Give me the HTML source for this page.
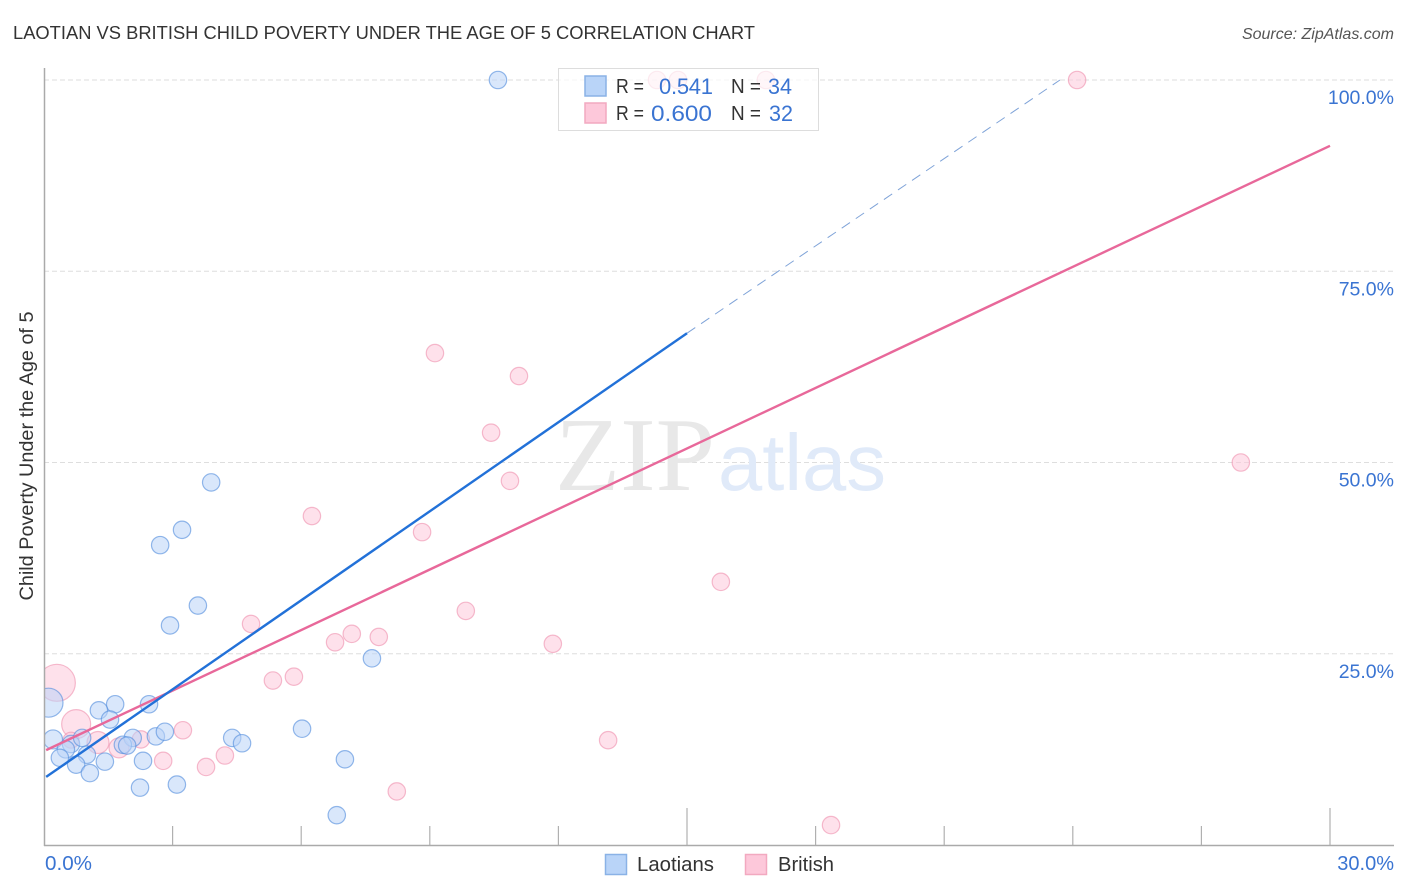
<!DOCTYPE html>
<html lang="en">
<head>
<meta charset="utf-8">
<title>Laotian vs British Child Poverty Chart</title>
<style>
html,body{margin:0;padding:0;background:#fff;}
svg{display:block;font-family:"Liberation Sans",sans-serif;}
</style>
</head>
<body>
<svg id="chart" width="1406" height="892" viewBox="0 0 1406 892">
  <text x="13" y="39" font-size="18.5" fill="#333" textLength="742" lengthAdjust="spacingAndGlyphs">LAOTIAN VS BRITISH CHILD POVERTY UNDER THE AGE OF 5 CORRELATION CHART</text>
  <text x="1394" y="39" font-size="16" font-style="italic" fill="#555" text-anchor="end">Source: ZipAtlas.com</text>
  <g id="grid"></g>
  <g>
    <text x="555" y="490" font-family="'Liberation Serif',serif" font-size="105" fill="#e8e8e8" textLength="160" lengthAdjust="spacingAndGlyphs">ZIP</text>
    <text x="718" y="490" font-size="80" fill="#e0eaf9" textLength="168" lengthAdjust="spacingAndGlyphs">atlas</text>
  </g>
  <g id="points"></g>
  <rect x="0" y="60" width="45" height="786" fill="#fff"/>
  <g id="trends"></g>
  <g id="axes"></g>
  <text transform="translate(33,456) rotate(-90)" font-size="19.5" fill="#333" text-anchor="middle" textLength="289" lengthAdjust="spacingAndGlyphs">Child Poverty Under the Age of 5</text>
  <g>
    <rect x="558.5" y="68.5" width="260" height="62" fill="#fff" fill-opacity="0.7" stroke="#ddd"/>
    <rect x="585" y="76" width="21" height="20" fill="#b9d4f8" stroke="#8ab2e6" stroke-width="1.5"/>
    <rect x="585" y="103" width="21" height="20" fill="#fdc8da" stroke="#f2a9c0" stroke-width="1.5"/>
    <g font-size="20" fill="#333">
      <text x="616" y="93" textLength="28" lengthAdjust="spacingAndGlyphs">R =</text>
      <text x="731" y="93" textLength="30" lengthAdjust="spacingAndGlyphs">N =</text>
      <text x="616" y="120" textLength="28" lengthAdjust="spacingAndGlyphs">R =</text>
      <text x="731" y="120" textLength="30" lengthAdjust="spacingAndGlyphs">N =</text>
    </g>
    <g font-size="22" fill="#3a74d2">
      <text x="659" y="94" textLength="54" lengthAdjust="spacing">0.541</text>
      <text x="768" y="94" textLength="24" lengthAdjust="spacingAndGlyphs">34</text>
      <text x="651" y="121" textLength="61" lengthAdjust="spacingAndGlyphs">0.600</text>
      <text x="769" y="121" textLength="24" lengthAdjust="spacingAndGlyphs">32</text>
    </g>
  </g>
  <g>
    <rect x="605.5" y="854.5" width="21" height="20" fill="#b9d4f8" stroke="#8ab2e6" stroke-width="1.5"/>
    <text x="637" y="871" font-size="20" fill="#333" textLength="77" lengthAdjust="spacingAndGlyphs">Laotians</text>
    <rect x="745.5" y="854.5" width="21" height="20" fill="#fdc8da" stroke="#f2a9c0" stroke-width="1.5"/>
    <text x="778" y="871" font-size="20" fill="#333" textLength="56" lengthAdjust="spacingAndGlyphs">British</text>
  </g>
</svg>
<script>
var yTickValues = [25, 50, 75, 100];
var yTickLabels = ["25.0%", "50.0%", "75.0%", "100.0%"];
var xTickValues = [3, 6, 9, 12, 15, 18, 21, 24, 27, 30];
var xMajorTicks = [15, 30];
var xEndLabels = ["0.0%", "30.0%"];

var laotianX = [10.59, 3.90, 3.22, 2.71, 3.59, 2.94, 7.65, 0.105, 1.66, 1.28, 1.54, 2.45, 0.21, 0.63, 0.51, 0.89, 1.00, 0.37, 0.75, 1.42, 1.07, 2.07, 1.84, 1.94, 2.61, 2.82, 2.31, 2.24, 3.10, 4.39, 4.62, 6.02, 7.02, 6.83];
var laotianY = [100, 47.4, 41.2, 39.2, 31.3, 28.7, 24.4, 18.6, 18.4, 17.6, 16.4, 18.4, 13.8, 13.2, 12.5, 14.0, 11.8, 11.4, 10.5, 10.9, 9.4, 14.0, 13.1, 13.0, 14.2, 14.8, 11.0, 7.5, 7.9, 14.0, 13.3, 15.2, 11.2, 3.9];
var laotianSize = [8.7, 8.7, 8.7, 8.7, 8.7, 8.7, 8.7, 14.5, 8.7, 8.7, 8.7, 8.7, 9.5, 8.7, 8.7, 8.7, 8.7, 8.7, 8.7, 8.7, 8.7, 8.7, 8.7, 8.7, 8.7, 8.7, 8.7, 8.7, 8.7, 8.7, 8.7, 8.7, 8.7, 8.7];

var britishX = [14.30, 14.79, 16.84, 24.10, 27.92, 9.12, 11.08, 10.43, 10.87, 6.25, 8.82, 15.79, 9.84, 4.83, 7.18, 7.81, 6.79, 11.87, 5.83, 5.34, 13.16, 8.23, 18.36, 0.30, 0.75, 1.26, 0.63, 1.75, 2.26, 2.78, 3.24, 3.78, 4.22];
var britishY = [100, 100, 100, 100, 50.0, 64.3, 61.3, 53.9, 47.6, 43.0, 40.9, 34.4, 30.6, 28.9, 27.6, 27.2, 26.5, 26.3, 22.0, 21.5, 13.7, 7.0, 2.6, 21.2, 15.8, 13.4, 13.7, 12.7, 13.8, 11.0, 15.0, 10.2, 11.7];
var britishSize = [8.7, 8.7, 8.7, 8.7, 8.7, 8.7, 8.7, 8.7, 8.7, 8.7, 8.7, 8.7, 8.7, 8.7, 8.7, 8.7, 8.7, 8.7, 8.7, 8.7, 8.7, 8.7, 8.7, 18.5, 14.5, 11, 8, 10, 8.7, 8.7, 8.7, 8.7, 8.7];

var laotianTrendX = [0.05, 15.0];
var laotianTrendY = [8.9, 66.9];
var laotianTrendExtX = [15.0, 23.7];
var laotianTrendExtY = [66.9, 100];
var britishTrendX = [0.05, 30];
var britishTrendY = [12.4, 91.4];

var NS = "http://www.w3.org/2000/svg";
function xScale(v) { return 44 + v * 1286 / 30; }
function yScale(v) { return 845 - v * 7.65; }
function make(tag, parent, attrs) {
  var el = document.createElementNS(NS, tag);
  for (var k in attrs) { el.setAttribute(k, attrs[k]); }
  parent.appendChild(el);
  return el;
}

var grid = document.getElementById("grid");
yTickValues.forEach(function (v, i) {
  var line = make("line", grid, { x1: 44, x2: 1394, y1: yScale(v), y2: yScale(v), stroke: "#dedede", "stroke-width": 1, "stroke-dasharray": "5 3" });
  
  
  var label = make("text", grid, { x: 1394, y: yScale(v) + 24, "font-size": 19.5, fill: "#3a74d2", "text-anchor": "end" });
  label.textContent = yTickLabels[i];
  
  
});

function drawSeries(xs, ys, sizes, fill, stroke, name) {
  var g = document.getElementById("points");
  xs.forEach(function (x, i) {
    var c = make("circle", g, { cx: xScale(x), cy: yScale(ys[i]), r: sizes[i], fill: fill, "fill-opacity": 0.55, stroke: stroke, "stroke-opacity": 0.6, "stroke-width": 1.2 });
    
    
  });
}
drawSeries(britishX, britishY, britishSize, "#fdc8da", "#ee8fae", "british-point");
drawSeries(laotianX, laotianY, laotianSize, "#b9d4f8", "#4f8bdc", "laotian-point");

var trends = document.getElementById("trends");
var tExt = make("line", trends, { x1: xScale(laotianTrendExtX[0]), y1: yScale(laotianTrendExtY[0]), x2: xScale(laotianTrendExtX[1]), y2: yScale(laotianTrendExtY[1]), stroke: "#7fa3d8", "stroke-width": 1, "stroke-dasharray": "10 7" });


var tBrit = make("line", trends, { x1: xScale(britishTrendX[0]), y1: yScale(britishTrendY[0]), x2: xScale(britishTrendX[1]), y2: yScale(britishTrendY[1]), stroke: "#e8689a", "stroke-width": 2.4 });


var tLao = make("line", trends, { x1: xScale(laotianTrendX[0]), y1: yScale(laotianTrendY[0]), x2: xScale(laotianTrendX[1]), y2: yScale(laotianTrendY[1]), stroke: "#2271d8", "stroke-width": 2.4 });



var axes = document.getElementById("axes");
var yAxis = make("line", axes, { x1: 44.5, x2: 44.5, y1: 68, y2: 846, stroke: "#aaa", "stroke-width": 1.5 });


var xAxis = make("line", axes, { x1: 44, x2: 1394, y1: 845.5, y2: 845.5, stroke: "#aaa", "stroke-width": 1.5 });


xTickValues.forEach(function (v) {
  var top = xMajorTicks.indexOf(v) >= 0 ? 808 : 826;
  var t = make("line", axes, { x1: xScale(v), x2: xScale(v), y1: top, y2: 845, stroke: "#b0b0b0", "stroke-width": 1.2 });
  
  
});
var x0 = make("text", axes, { x: 45, y: 870, "font-size": 20, fill: "#3a74d2", textLength: 47, lengthAdjust: "spacingAndGlyphs" });
x0.textContent = xEndLabels[0];


var x1 = make("text", axes, { x: 1394, y: 870, "font-size": 20, fill: "#3a74d2", "text-anchor": "end" });
x1.textContent = xEndLabels[1];


</script>
</body>
</html>
